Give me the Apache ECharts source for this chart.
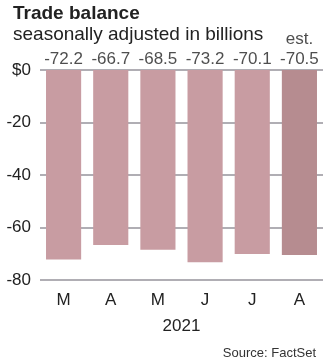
<!DOCTYPE html>
<html>
<head>
<meta charset="utf-8">
<script src="https://cdn.jsdelivr.net/npm/echarts@6/dist/echarts.min.js"></script>
<style>
  html, body { margin: 0; padding: 0; background: #fff; }
  #chart { width: 327px; height: 362px; }
</style>
</head>
<body>
<div id="chart"></div>
<script>
// data
const months = ['M', 'A', 'M', 'J', 'J', 'A']
const balance = [-72.2, -66.7, -68.5, -73.2, -70.1, -70.5]
const estimated = [false, false, false, false, false, true]
const yearLabel = '2021'

const font = '"Liberation Sans", Arial, sans-serif'
const ink = '#222'

const chart = echarts.init(document.getElementById('chart'))

chart.setOption({
  animation: false,
  textStyle: { fontFamily: font },
  title: [
    {
      text: 'Trade balance',
      subtext: 'seasonally adjusted in billions',
      left: 8,
      top: -1,
      itemGap: 2,
      textStyle: { fontSize: 19, fontWeight: 'bold', color: ink, fontFamily: font },
      subtextStyle: { fontSize: 19, color: ink, fontFamily: font }
    },
    {
      text: 'Source: FactSet',
      right: 6,
      top: 342,
      textStyle: { fontSize: 13, fontWeight: 'normal', color: '#333', fontFamily: font }
    }
  ],
  grid: { left: 40, right: 4, top: 70, bottom: 82 },
  xAxis: {
    type: 'category',
    data: months,
    axisLine: { show: false },
    axisTick: { show: false },
    axisLabel: { fontSize: 17, color: ink, margin: 12 },
    name: yearLabel,
    nameLocation: 'middle',
    nameGap: 38,
    nameTextStyle: { fontSize: 17, color: ink }
  },
  yAxis: {
    type: 'value',
    min: -80,
    max: 0,
    interval: 20,
    axisLine: { show: false },
    axisTick: { show: false },
    axisLabel: {
      fontSize: 17,
      color: ink,
      margin: 9,
      formatter: v => (v === 0 ? '$0' : String(v))
    },
    splitLine: { lineStyle: { color: '#b0aeb4', width: 2 } }
  },
  series: [
    {
      type: 'bar',
      data: balance.map((v, i) => ({
        value: v,
        itemStyle: { color: estimated[i] ? '#b68c90' : '#c89ca2' }
      })),
      barCategoryGap: '25.5%',
      z: 3
    },
    {
      // value labels sitting above the zero line
      type: 'scatter',
      data: balance.map((v, i) => [i, 0]),
      symbolSize: 0,
      silent: true,
      z: 4,
      label: {
        show: true,
        position: 'top',
        distance: 1,
        fontSize: 17,
        color: ink,
        lineHeight: 20,
        formatter: p => (estimated[p.dataIndex] ? 'est.\n' : '') + balance[p.dataIndex].toFixed(1)
      }
    }
  ]
})
</script>
</body>
</html>
